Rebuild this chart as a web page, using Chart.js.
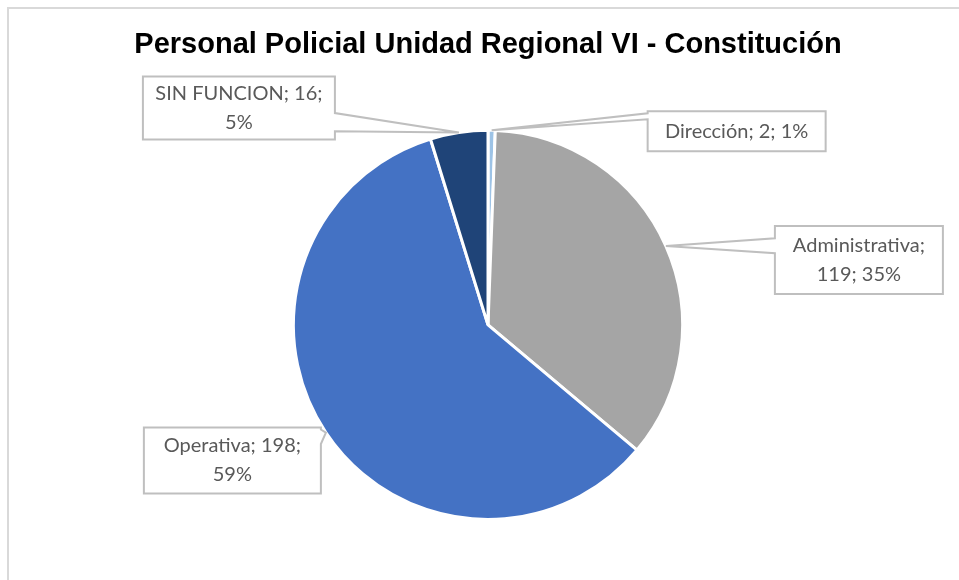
<!DOCTYPE html>
<html>
<head>
<meta charset="utf-8">
<script src="https://cdn.jsdelivr.net/npm/chart.js@4"></script>
<style>
  html, body { margin: 0; padding: 0; background: #fff; }
  #wrap { width: 959px; height: 580px; position: relative; }
</style>
</head>
<body>
<div id="wrap"><canvas id="pie" width="959" height="580"></canvas></div>
<script>
  var categories = ["Dirección", "Administrativa", "Operativa", "SIN FUNCION"];
  var values = [2, 119, 198, 16];
  var percents = ["1%", "35%", "59%", "5%"];
  var colors = ["#9dc3e6", "#a5a5a5", "#4472c4", "#1f4478"];

  // callout layout per slice: box offset from the slice edge point, size, wedge base (fractions of box height), text lines
  var callouts = [
    { dx: 156, dy: -19, w: 178, h: 40, a: 0.05, b: 0.2, lines: ["Dirección; 2; 1%"] },
    { dx: 109, dy: -20, w: 168, h: 68, a: 0.18, b: 0.4, lines: ["Administrativa;", "119; 35%"] },
    { dx: -182, dy: -5, w: 177, h: 66, a: 0.03, b: 0.25, lines: ["Operativa; 198;", "59%"] },
    { dx: -316, dy: -56, w: 192, h: 63, a: 0.58, b: 0.87, lines: ["SIN FUNCION; 16;", "5%"] }
  ];

  var framePlugin = {
    id: "frame",
    beforeDraw: function (chart) {
      var ctx = chart.ctx;
      ctx.save();
      ctx.strokeStyle = "#d9d9d9";
      ctx.lineWidth = 2;
      ctx.strokeRect(8, 8, chart.width + 20, chart.height + 20);
      ctx.restore();
    }
  };

  var calloutPlugin = {
    id: "callouts",
    afterDraw: function (chart) {
      var ctx = chart.ctx;
      var arcs = chart.getDatasetMeta(0).data;
      ctx.save();
      arcs.forEach(function (arc, i) {
        var c = callouts[i];
        var mid = (arc.startAngle + arc.endAngle) / 2;
        var px = arc.x + Math.cos(mid) * arc.outerRadius;
        var py = arc.y + Math.sin(mid) * arc.outerRadius;
        var bx = px + c.dx, by = py + c.dy;
        var left = c.dx > 0;
        var ya = by + c.h * c.a, yb = by + c.h * c.b;

        ctx.beginPath();
        if (left) {
          ctx.moveTo(bx, by);
          ctx.lineTo(bx + c.w, by);
          ctx.lineTo(bx + c.w, by + c.h);
          ctx.lineTo(bx, by + c.h);
          ctx.lineTo(bx, yb);
          ctx.lineTo(px, py);
          ctx.lineTo(bx, ya);
        } else {
          var rx = bx + c.w;
          ctx.moveTo(bx, by);
          ctx.lineTo(rx, by);
          ctx.lineTo(rx, ya);
          ctx.lineTo(px, py);
          ctx.lineTo(rx, yb);
          ctx.lineTo(rx, by + c.h);
          ctx.lineTo(bx, by + c.h);
        }
        ctx.closePath();
        ctx.fillStyle = "#ffffff";
        ctx.fill();
        ctx.strokeStyle = "#bfbfbf";
        ctx.lineWidth = 2;
        ctx.stroke();

        ctx.fillStyle = "#595959";
        ctx.font = "20px Lato";
        ctx.textAlign = "center";
        ctx.textBaseline = "middle";
        var lh = 29;
        var ty = by + c.h / 2 - (c.lines.length - 1) * lh / 2;
        c.lines.forEach(function (t, k) {
          ctx.fillText(t, bx + c.w / 2, ty + k * lh);
        });
      });
      ctx.restore();
    }
  };

  new Chart(document.getElementById("pie"), {
    type: "pie",
    data: {
      labels: categories,
      datasets: [{
        data: values,
        backgroundColor: colors,
        borderColor: "#ffffff",
        borderWidth: 3
      }]
    },
    options: {
      responsive: false,
      animation: false,
      layout: { padding: { left: 100, right: 83, top: 0, bottom: 59 } },
      plugins: {
        legend: { display: false },
        tooltip: { enabled: false },
        title: {
          display: true,
          text: "Personal Policial Unidad Regional VI - Constitución",
          color: "#000000",
          font: { family: "Liberation Sans", size: 29, weight: "bold" },
          padding: { top: 28, bottom: 66 }
        }
      }
    },
    plugins: [framePlugin, calloutPlugin]
  });
</script>
</body>
</html>
